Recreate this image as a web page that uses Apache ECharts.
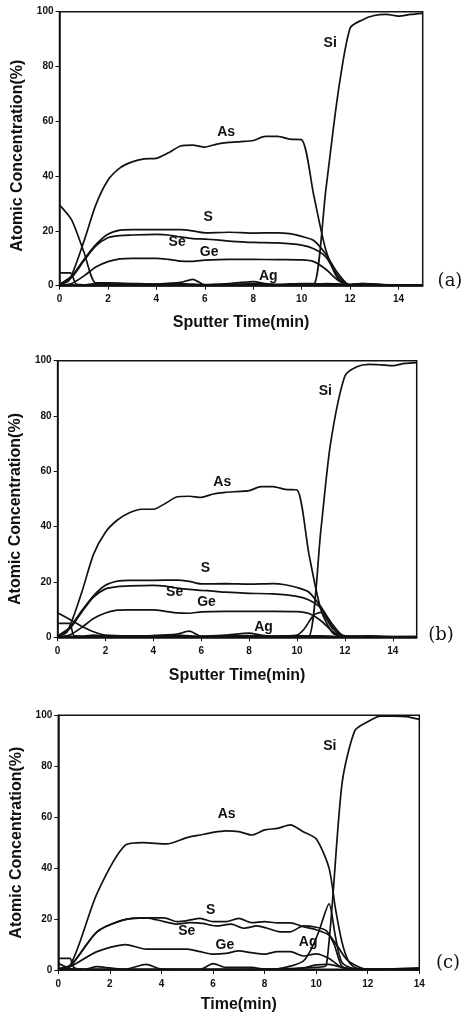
<!DOCTYPE html>
<html>
<head>
<meta charset="utf-8">
<script src="https://cdn.jsdelivr.net/npm/echarts@6/dist/echarts.min.js"></script>
<style>
html,body{margin:0;padding:0;background:#fff;}
#chart{width:465px;height:1016px;}
</style>
</head>
<body>
<div id="chart"></div>
<script>
// ---------- Panel (a) ----------
const aSi = [[0,0.3],[2,0.2],[4,0.3],[6,0.2],[8,0.3],[10,0.3],[10.5,0.4],[11,35],[11.5,70],[12,94],[12.5,97],[13,98.6],[13.5,99],[14,98.4],[14.5,99],[15,99.4]];
const aAs = [[0,0.5],[0.4,2],[1,16],[1.5,29.5],[2,38.5],[2.5,43],[3,45.2],[3.5,46.3],[4,46.5],[4.5,48.5],[5,51],[5.5,51.3],[6,50.6],[6.5,51.7],[7,52.3],[7.5,52.6],[8,53],[8.5,54.5],[9,54.5],[9.5,53.5],[10,53.3],[10.5,33],[11,13],[11.5,2.5],[12,0.3],[12.5,0.8],[13,0.5],[14,0.2],[15,0.3]];
const aS  = [[0,0.5],[0.5,3.5],[1,9.5],[1.5,15],[2,18.8],[2.5,20.3],[3,20.5],[4,20.5],[5,20.5],[5.5,20],[6,19.3],[7,19.5],[8,19.2],[9,19.3],[9.5,19],[10,18],[10.5,16.5],[11,11.5],[11.5,4.5],[12,0.3],[15,0.2]];
const aSe = [[0,0.3],[0.5,3],[1,9],[1.5,14.5],[2,17.5],[2.5,18.3],[3,18.5],[4,18.7],[4.5,18.5],[5,17.8],[5.5,17.2],[6,17],[6.5,16.7],[7,16.3],[8,15.8],[9,15.6],[10,14.8],[10.5,13.5],[11,10.5],[11.5,3.5],[12,0.2],[15,0.2]];
const aGe = [[0,0.2],[0.5,0.8],[1,3.5],[1.5,6.8],[2,8.8],[2.5,9.8],[3,10],[4,10],[4.5,9.6],[5,9],[5.5,8.9],[6,9.3],[7,9.6],[8,9.6],[9,9.5],[10,9.4],[10.5,8.8],[11,6],[11.5,2],[12,0.2],[15,0.2]];
const aAg = [[0,0],[1,0.3],[1.5,0.8],[2,0.7],[3,0.4],[4,0.6],[5,1.2],[5.5,2.3],[6,0.4],[7,0.8],[7.5,1.2],[8,1.5],[8.5,0.8],[9,0.3],[10,0.3],[10.5,0.4],[11,0.8],[12,0.5],[12.5,0.8],[13,0.7],[13.5,0.2],[15,0.2]];
const aO  = [[0,29.5],[0.5,24],[1,12.5],[1.5,1],[2,1],[3,0.8],[4,0.6],[5,0.8],[6,0.3],[7,0.5],[8,0.8],[9,0.5],[10,0.8],[10.5,0.8],[11,0.5],[12,0.2],[15,0.2]];
const aC  = [[0,4.7],[0.45,4.7],[0.7,0.5],[1.5,0.2],[15,0.2]];
const aLabels = [[11.18,88.5,'Si'],[6.88,56,'As'],[6.14,25,'S'],[4.86,15.9,'Se'],[6.18,12.3,'Ge'],[8.62,3.5,'Ag']];

// ---------- Panel (b) ----------
const bSi = [[0,0.3],[2,0.2],[4,0.3],[6,0.2],[8,0.3],[10,0.3],[10.5,0.4],[11,39],[11.4,70],[12,94.5],[12.5,97.8],[13,98.7],[13.5,98.5],[14,98.2],[14.5,99],[15,99.3]];
const bAs = [[0,0.5],[0.4,2],[1,16],[1.5,30],[2,38],[2.5,42.4],[3,45],[3.5,46.3],[4,46.3],[4.5,48.4],[5,50.8],[5.5,51],[6,50.6],[6.5,51.8],[7,52.4],[7.5,52.7],[8,53],[8.5,54.5],[9,54.5],[9.5,53.5],[10,53.3],[10.5,30],[11,10],[11.5,1.5],[12,0.3],[13,0.5],[14,0.2],[15,0.3]];
const bS  = [[0,0.5],[0.5,3.5],[1,9.5],[1.5,15],[2,18.8],[2.5,20.3],[3,20.6],[4,20.6],[5,20.7],[5.5,20.2],[6,19.3],[7,19.4],[8,19.2],[9,19.4],[9.5,19],[10,18],[10.5,16.3],[11,11],[11.5,4.5],[12,0.3],[15,0.2]];
const bSe = [[0,0.3],[0.5,3],[1,9],[1.5,14.5],[2,17.5],[2.5,18.3],[3,18.6],[4,18.8],[4.5,18.5],[5,17.8],[5.5,17.3],[6,17],[6.5,16.7],[7,16.3],[8,15.9],[9,15.7],[10,14.8],[10.5,13.5],[11,10.5],[11.5,3.5],[12,0.2],[15,0.2]];
const bGe = [[0,0.2],[0.5,0.8],[1,3.5],[1.5,6.8],[2,8.8],[2.5,9.8],[3,9.9],[4,9.9],[4.5,9.4],[5,8.8],[5.5,8.7],[6,9.2],[7,9.4],[8,9.4],[9,9.4],[10,9.3],[10.5,8.6],[11,6],[11.5,2],[12,0.2],[15,0.2]];
const bAg = [[0,0],[1,0.3],[1.5,0.8],[2,0.5],[3,0.4],[4,0.6],[5,1.2],[5.5,2.2],[6,0.4],[7,0.8],[8,1.5],[8.5,0.8],[9,0.3],[9.5,0.5],[10,0.8],[10.3,3],[10.7,8],[11,9],[11.5,3],[12,0.5],[13,0.3],[15,0.2]];
const bO  = [[0,8.9],[0.5,6.5],[1,4],[1.5,2],[2,0.8],[3,0.5],[4,0.6],[5,0.8],[6,0.3],[7,0.5],[8,0.6],[9,0.4],[10,0.5],[11,0.5],[12,0.2],[15,0.2]];
const bC  = [[0,5],[0.5,5],[0.7,0.5],[1.5,0.2],[15,0.2]];
const bLabels = [[11.18,88.9,'Si'],[6.88,56.2,'As'],[6.17,24.9,'S'],[4.89,16.2,'Se'],[6.22,12.6,'Ge'],[8.6,3.8,'Ag']];

// ---------- Panel (c) ----------
const cSi = [[0,0.3],[2,0.3],[4,0.3],[6,0.3],[8,0.3],[10,1],[10.4,2],[11,73],[11.5,94],[12,97.5],[12.5,99.7],[13,99.7],[13.5,99.5],[14,98.4]];
const cAs = [[0,0.5],[0.4,1],[1.5,30],[2.6,49],[3.3,50],[4.2,49.5],[5,52],[5.5,53],[6,54],[6.5,54.6],[7,54.3],[7.5,53],[8,55],[8.5,55.6],[9,57],[9.5,54.3],[10,51.5],[10.5,40],[10.75,24],[11,11],[11.25,3.5],[11.5,1],[12,0.3],[13,0.3],[14,0.3]];
const cS  = [[0,0.5],[0.5,2],[1.5,15],[2.5,19.6],[3.4,20.5],[4.1,20.5],[4.6,19],[5,19.4],[5.5,20.3],[6,19],[6.5,19],[7,20.3],[7.5,18.6],[8,19],[8.5,18.5],[9,18.5],[9.5,17],[10,15.8],[10.5,13.7],[10.85,9],[11.2,4],[11.7,1],[12,0.3],[14,0.3]];
const cSe = [[0,0.3],[0.5,2],[1.5,15],[2.5,19.6],[3.4,20.5],[4.1,19],[4.6,18],[5.1,18.6],[5.6,18.3],[6.1,17.3],[6.7,18],[7.2,16.4],[7.7,17.3],[8.1,16.4],[8.6,15],[9,15],[9.5,17.3],[10,16.8],[10.4,15.4],[10.7,10],[11,1.5],[11.5,0.3],[14,0.3]];
const cGe = [[0,0.5],[0.5,1.5],[1.5,7.2],[2.6,10],[3.4,8.2],[4.2,8.2],[5,8.2],[5.5,7.2],[6,6.2],[6.5,6.5],[7,7.5],[7.5,6.8],[8,6.2],[8.5,7.2],[9,7.2],[9.5,5.5],[10,6.3],[10.5,4.5],[11,1],[11.5,0.3],[14,0.3]];
const cAg = [[0,0.2],[2,0.2],[4,0.2],[6,0.2],[8,0.3],[8.5,0.5],[9,1.5],[9.5,3.5],[9.8,8],[10.1,15],[10.5,26],[10.75,13],[11,3],[11.5,0.5],[12,0.2],[14,0.2]];
const cO  = [[0,2.6],[0.5,0.5],[1,0.3],[1.5,1.3],[2,0.8],[2.6,0.3],[3.4,2.2],[4,0.4],[5,0.3],[5.5,0.3],[6,2.5],[6.5,1],[7,1],[7.5,1],[8,0.4],[8.5,0.4],[9,0.3],[9.5,0.8],[10,2],[10.5,2.2],[11,1],[11.5,0.4],[12,0.2],[13,0.5],[14,0.8]];
const cC  = [[0,4.6],[0.45,4.6],[0.6,1],[1,0.3],[14,0.3]];
const cLabels = [[10.53,87.8,'Si'],[6.53,61.2,'As'],[5.91,23.6,'S'],[4.98,15.4,'Se'],[6.46,9.8,'Ge'],[9.69,11.1,'Ag']];

const xTitles = ['Sputter Time(min)','Sputter Time(min)','Time(min)'];
const xMax = [15, 15, 14];
const yTitle = 'Atomic Concentration(%)';
const panelTags = ['(a)','(b)','(c)'];

const FONT = '"Liberation Sans", Arial, sans-serif';
const INK = '#111111';

const panels = [
  {lines:[aSi,aAs,aS,aSe,aGe,aAg,aO,aC], labels:aLabels},
  {lines:[bSi,bAs,bS,bSe,bGe,bAg,bO,bC], labels:bLabels},
  {lines:[cSi,cAs,cS,cSe,cGe,cAg,cO,cC], labels:cLabels}
];

const grid = [
  {left:59.5, top:11.7, width:363.2, height:274},
  {left:53.3, top:360.7, width:363.4, height:276.6},
  {left:58.3, top:715.3, width:361, height:254.7}
].map(g => Object.assign(g, {show:true, borderColor:INK, borderWidth:1.5, backgroundColor:'#fff', containLabel:false}));

const yGaps = [33, 30, 34];
const yPad = [[0,14,0,0],[0,20,0,0],[0,0,0,0]];
const xGaps = [29, 30, 27];

const xAxis = [], yAxis = [], series = [];
panels.forEach((p, i) => {
  xAxis.push({
    type:'value', gridIndex:i, min:0, max:xMax[i], interval:2,
    name:xTitles[i], nameLocation:'middle', nameGap:xGaps[i],
    nameTextStyle:{fontFamily:FONT, fontWeight:'bold', fontSize:16, color:INK},
    axisLine:{show:true, onZero:false, lineStyle:{color:INK, width:1.5}},
    axisTick:{show:true, length:4, lineStyle:{color:INK, width:1}},
    axisLabel:{fontFamily:FONT, fontWeight:'bold', fontSize:10, color:INK, margin:9, showMaxLabel:(xMax[i] % 2 === 0)},
    splitLine:{show:false}
  });
  yAxis.push({
    type:'value', gridIndex:i, min:0, max:100, interval:20,
    name:yTitle, nameLocation:'middle', nameGap:yGaps[i], nameRotate:90,
    nameTextStyle:{fontFamily:FONT, fontWeight:'bold', fontSize:16, color:INK, padding:yPad[i]},
    axisLine:{show:true, lineStyle:{color:INK, width:1.5}},
    axisTick:{show:true, length:4, lineStyle:{color:INK, width:1}},
    axisLabel:{fontFamily:FONT, fontWeight:'bold', fontSize:10, color:INK, margin:6},
    splitLine:{show:false}
  });
  p.lines.forEach(d => {
    series.push({
      type:'line', xAxisIndex:i, yAxisIndex:i, data:d, showSymbol:false, symbol:'none',
      smooth:0.25, lineStyle:{color:INK, width:1.7}, silent:true, animation:false, z:2
    });
  });
});

const tagPos = [[450,281],[441,635],[448,963]];

const chart = echarts.init(document.getElementById('chart'), null, {renderer:'canvas'});
chart.setOption({animation:false, backgroundColor:'#fff', grid, xAxis, yAxis, series});

const graphic = [];
panels.forEach((p, i) => {
  p.labels.forEach(l => {
    const pt = chart.convertToPixel({gridIndex:i}, [l[0], l[1]]);
    graphic.push({
      type:'text', x:pt[0], y:pt[1], z:10,
      style:{text:l[2], fontFamily:FONT, fontWeight:'bold', fontSize:14, fill:INK, align:'center', verticalAlign:'middle'}
    });
  });
});
panelTags.forEach((t, i) => {
  graphic.push({
    type:'text', x:tagPos[i][0], y:tagPos[i][1], z:10,
    style:{text:t, fontFamily:'"DejaVu Serif", serif', fontSize:18, fill:INK, align:'center', verticalAlign:'middle'}
  });
});
chart.setOption({graphic});
</script>
</body>
</html>
